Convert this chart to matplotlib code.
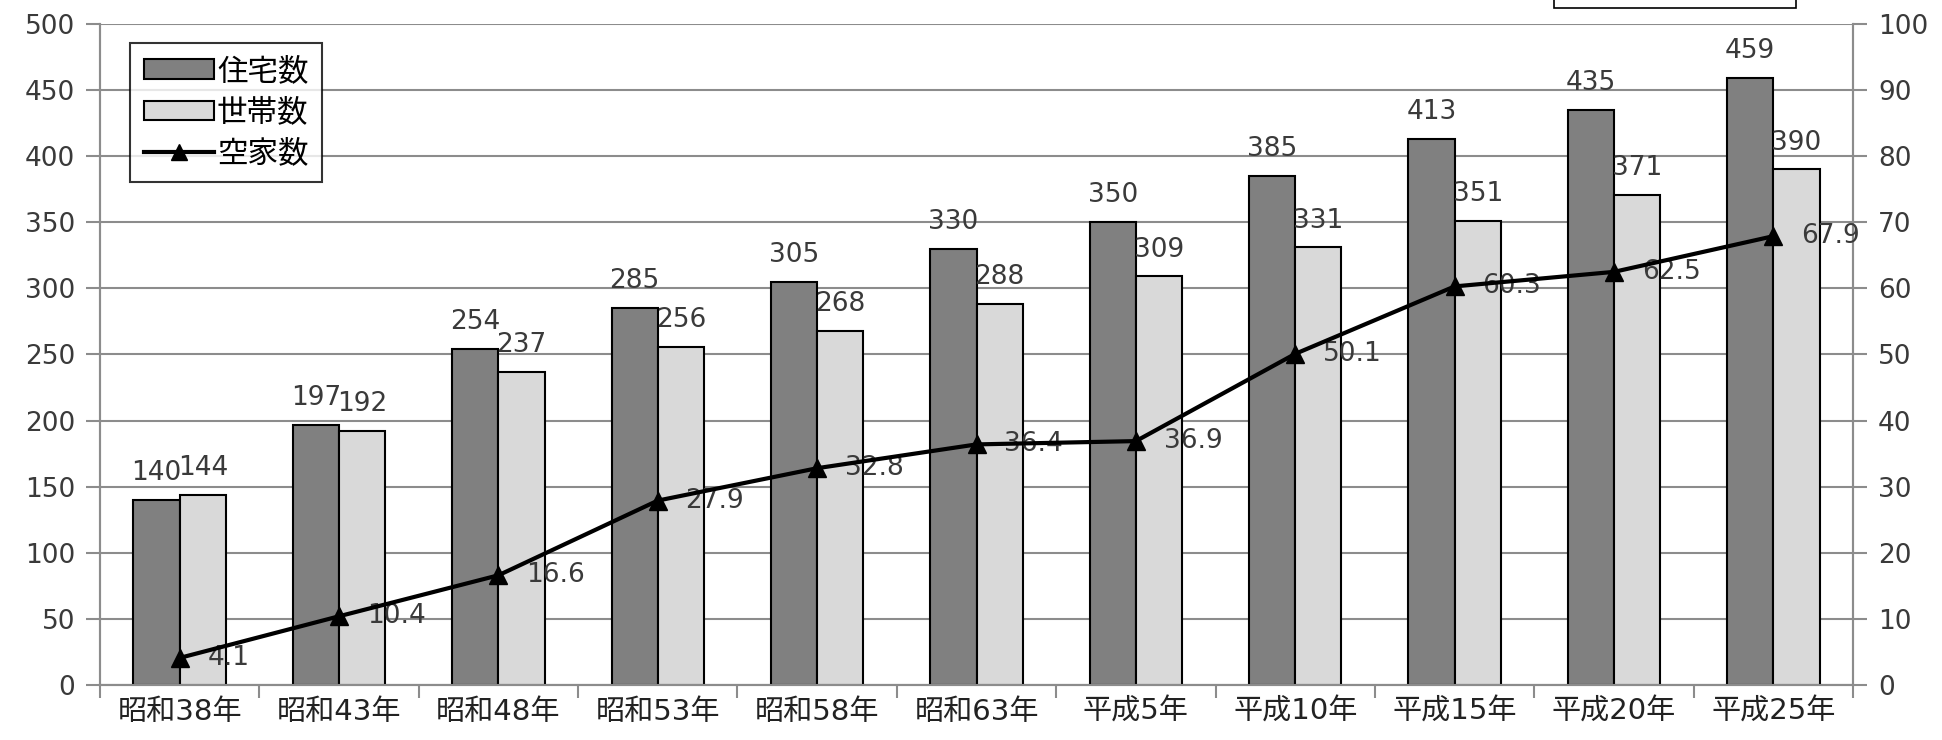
import matplotlib.pyplot as plt
import matplotlib.patches as mpatches
from matplotlib.lines import Line2D
import numpy as np

plt.rcParams['font.family'] = ['DejaVu Sans', 'Noto Sans CJK JP']

# ---------------- Data ----------------
years = ["昭和38年", "昭和43年", "昭和48年", "昭和53年", "昭和58年", "昭和63年",
         "平成5年", "平成10年", "平成15年", "平成20年", "平成25年"]
housing = [140, 197, 254, 285, 305, 330, 350, 385, 413, 435, 459]
households = [144, 192, 237, 256, 268, 288, 309, 331, 351, 371, 390]
vacant = [4.1, 10.4, 16.6, 27.9, 32.8, 36.4, 36.9, 50.1, 60.3, 62.5, 67.9]

DARK = "#808080"
LIGHT = "#d9d9d9"
GRID = "#8c8c8c"
TXT = "#3a3a3a"
FS = 19

fig = plt.figure(figsize=(19.42, 7.4), dpi=100)
ax = fig.add_axes([0.0515, 0.0743, 0.9027, 0.8933])
ax2 = ax.twinx()

x = np.arange(len(years))
w = 0.29

ax.bar(x - w / 2, housing, w, color=DARK, edgecolor="black", linewidth=1.5, zorder=3)
ax.bar(x + w / 2, households, w, color=LIGHT, edgecolor="black", linewidth=1.5, zorder=3)

for xi, v in zip(x, housing):
    ax.annotate(str(v), (xi - w / 2, v), xytext=(0, 10), textcoords="offset points",
                ha="center", va="bottom", fontsize=FS, color=TXT, zorder=5)
for xi, v in zip(x, households):
    ax.annotate(str(v), (xi + w / 2, v), xytext=(0, 10), textcoords="offset points",
                ha="center", va="bottom", fontsize=FS, color=TXT, zorder=5)

ax2.plot(x, vacant, color="black", linewidth=3, marker="^", markersize=13, zorder=4)
for xi, v in zip(x, vacant):
    ax2.annotate(f"{v:.1f}", (xi, v), xytext=(20, 0), textcoords="offset points",
                 ha="left", va="center", fontsize=FS, color=TXT)

# ---------------- Axes ----------------
ax.set_xlim(-0.5, len(years) - 0.5)
ax.set_ylim(0, 500)
ax.set_yticks(range(0, 501, 50))
ax2.set_ylim(0, 100)
ax2.set_yticks(range(0, 101, 10))

ax.grid(axis="y", color=GRID, linewidth=1.5, zorder=0)
ax.set_axisbelow(True)

ax.set_xticks(x)
ax.set_xticklabels(years, fontsize=21, color="#222222")
ax.set_xticks(np.arange(-0.5, len(years)), minor=True)
ax.tick_params(axis="x", which="major", length=0, pad=9)
ax.tick_params(axis="x", which="minor", length=9, color=GRID, width=1.5)
ax.tick_params(axis="y", length=10, color=GRID, width=1.5, labelsize=FS,
               labelcolor=TXT, pad=8)
ax2.tick_params(axis="y", length=10, color=GRID, width=1.5, labelsize=FS,
                labelcolor=TXT, pad=8)

for a in (ax, ax2):
    a.spines["top"].set_visible(False)
    for s in ("left", "right", "bottom"):
        a.spines[s].set_color(GRID)
        a.spines[s].set_linewidth(1.5)

# ---------------- Legend ----------------
handles = [
    mpatches.Patch(facecolor=DARK, edgecolor="black", linewidth=1.5, label="住宅数"),
    mpatches.Patch(facecolor=LIGHT, edgecolor="black", linewidth=1.5, label="世帯数"),
    Line2D([0], [0], color="black", linewidth=3, marker="^", markersize=12, label="空家数"),
]
leg = ax2.legend(handles=handles, loc="upper left", bbox_to_anchor=(0.017, 0.971),
                 borderaxespad=0, fontsize=22, frameon=True, fancybox=False,
                 handlelength=2.3, handleheight=0.6, handletextpad=0.1,
                 labelspacing=0.4, borderpad=0.45)
leg.get_frame().set_edgecolor("black")
leg.get_frame().set_linewidth(1.5)

# small text box cut off at the top edge
fig.patches.append(mpatches.Rectangle((1554 / 1942, 1 - 8 / 740), 242 / 1942, 0.05,
                                      transform=fig.transFigure, facecolor="white",
                                      edgecolor="black", linewidth=1.2))

fig.savefig("out.png", dpi=100)
